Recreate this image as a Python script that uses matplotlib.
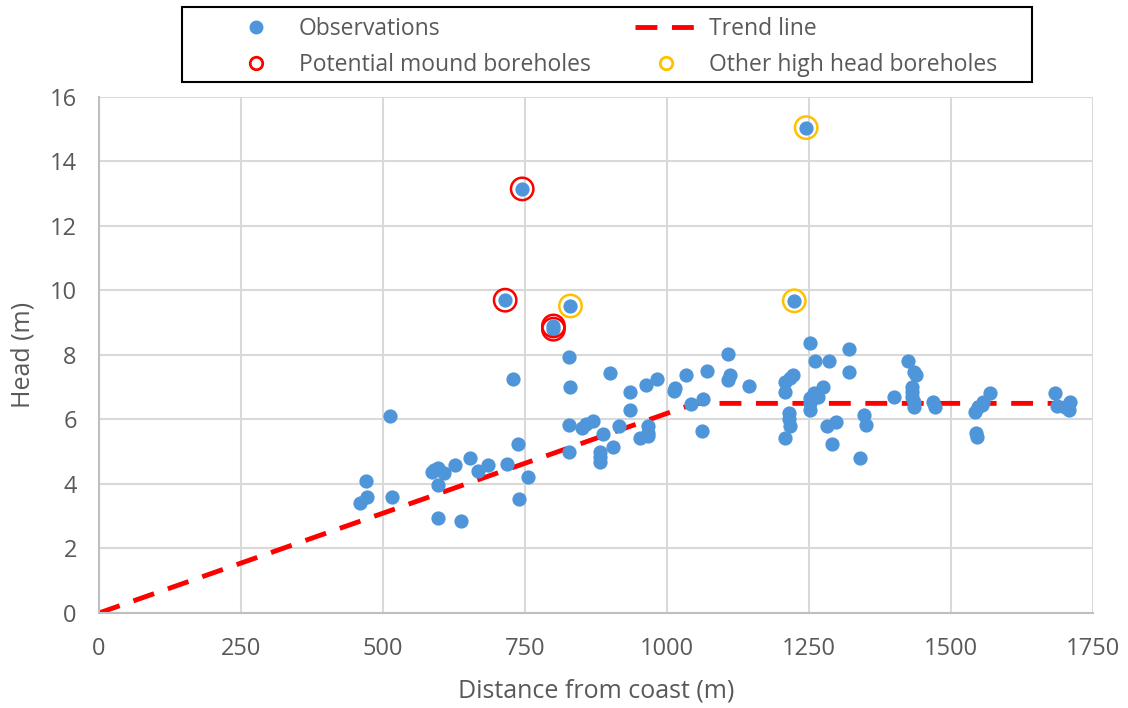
import matplotlib.pyplot as plt
from matplotlib.lines import Line2D
from matplotlib.patches import Rectangle

plt.rcParams['font.family'] = ['Open Sans', 'DejaVu Sans']

# Observations (distance from coast [m], head [m])
obs_x = [460, 470, 472, 512, 515,
         586, 589, 597, 597, 596, 607, 626, 637, 653, 668, 685, 718, 728, 738, 740, 756,
         828, 830, 828, 828, 850, 857, 869, 882, 882, 882, 888, 900, 905, 915, 935, 935,
         952, 963, 966, 966, 967, 983, 1012, 1014, 1033, 1043, 1063, 1062, 1070,
         1108, 1110, 1108, 1145, 1208, 1217, 1222, 1208, 1215, 1215, 1216, 1208,
         1251, 1261, 1258, 1252, 1266, 1252, 1251, 1275, 1286, 1281, 1297, 1291, 1320, 1320,
         1347, 1350, 1339,
         1400, 1425, 1434, 1439, 1431, 1431, 1432, 1434, 1434, 1468, 1471,
         1542, 1548, 1554, 1557, 1569, 1544, 1545,
         1683, 1687, 1700, 1710, 1707,
         715, 745, 800, 800, 830, 1224, 1245]
obs_y = [3.4, 4.1, 3.6, 6.1, 3.6,
         4.38, 4.43, 4.49, 3.97, 2.94, 4.35, 4.59, 2.86, 4.8, 4.4, 4.59, 4.61, 7.26, 5.24, 3.52, 4.23,
         7.95, 7.02, 5.83, 5.0, 5.73, 5.85, 5.95, 5.0, 4.85, 4.69, 5.54, 7.43, 5.16, 5.8, 6.86, 6.29,
         5.42, 7.07, 5.8, 5.57, 5.49, 7.26, 6.88, 6.98, 7.39, 6.47, 6.63, 5.64, 7.51,
         8.02, 7.38, 7.22, 7.04, 7.17, 7.28, 7.38, 6.86, 6.19, 6.0, 5.8, 5.42,
         8.36, 7.82, 6.81, 6.66, 6.71, 6.5, 6.29, 7.0, 7.82, 5.8, 5.93, 5.24, 8.18, 7.48,
         6.14, 5.83, 4.8,
         6.69, 7.82, 7.48, 7.38, 7.02, 6.86, 6.71, 6.55, 6.38, 6.55, 6.4,
         6.24, 6.4, 6.45, 6.55, 6.83, 5.59, 5.47,
         6.83, 6.42, 6.4, 6.55, 6.29,
         9.7, 13.15, 8.9, 8.8, 9.52, 9.68, 15.05]

mound_x = [715, 745, 800, 800]
mound_y = [9.7, 13.15, 8.9, 8.8]
high_x = [830, 1224, 1245]
high_y = [9.52, 9.68, 15.05]

trend_x = [0, 1050, 1710]
trend_y = [0, 6.5, 6.5]

BLUE = '#4E95D9'
RED = '#FF0000'
GOLD = '#FFC000'
TXT = '#595959'

fig = plt.figure(figsize=(11.28, 7.08), dpi=100)
ax = fig.add_axes([0.0878, 0.1342, 0.8812, 0.7288])

ax.plot(trend_x, trend_y, color=RED, lw=3.5, ls=(0, (4.5, 3)), zorder=2)
ax.scatter(obs_x, obs_y, s=105, color=BLUE, linewidth=0, zorder=3)
ax.scatter(mound_x, mound_y, s=260, facecolor='none', edgecolor=RED, linewidth=1.8, zorder=4)
ax.scatter(high_x, high_y, s=260, facecolor='none', edgecolor=GOLD, linewidth=1.8, zorder=4)

ax.set_xlim(0, 1750)
ax.set_ylim(0, 16)
ax.set_xticks(range(0, 1751, 250))
ax.set_yticks(range(0, 17, 2))
ax.grid(True, color='#D9D9D9', lw=1.5)
ax.set_axisbelow(True)
for s in ['top', 'right']:
    ax.spines[s].set_visible(False)
for s in ['left', 'bottom']:
    ax.spines[s].set_color('#BFBFBF')
    ax.spines[s].set_linewidth(1.5)
ax.tick_params(length=0, labelsize=17, labelcolor=TXT)
ax.tick_params(axis='x', pad=17)
ax.tick_params(axis='y', pad=16)
ax.set_xlabel('Distance from coast (m)', fontsize=18, color=TXT, labelpad=13)
ax.set_ylabel('Head (m)', fontsize=18, color=TXT, labelpad=10)

# legend (frameless, box drawn separately)
handles = [
    Line2D([], [], ls='none', marker='o', ms=9, color=BLUE),
    Line2D([], [], ls='none', marker='o', ms=9, mfc='none', mec=RED, mew=2),
    Line2D([], [], color=RED, lw=3.5, ls=(0, (4.5, 3))),
    Line2D([], [], ls='none', marker='o', ms=9, mfc='none', mec=GOLD, mew=2),
]
labels = ['Observations', 'Potential mound boreholes', 'Trend line', 'Other high head boreholes']
fig.legend(handles, labels, ncol=2, loc='center left', bbox_to_anchor=(214 / 1128, 1 - 47 / 708),
           fontsize=16.5, frameon=False, borderpad=0, handlelength=2.7,
           columnspacing=1.95, labelspacing=0.5, handletextpad=0.5, labelcolor=TXT)
fig.patches.append(Rectangle((182 / 1128, 1 - 82 / 708), 850 / 1128, 75 / 708,
                             transform=fig.transFigure, fill=False, edgecolor='black', lw=1.5))

fig.savefig('out.png', dpi=100)
